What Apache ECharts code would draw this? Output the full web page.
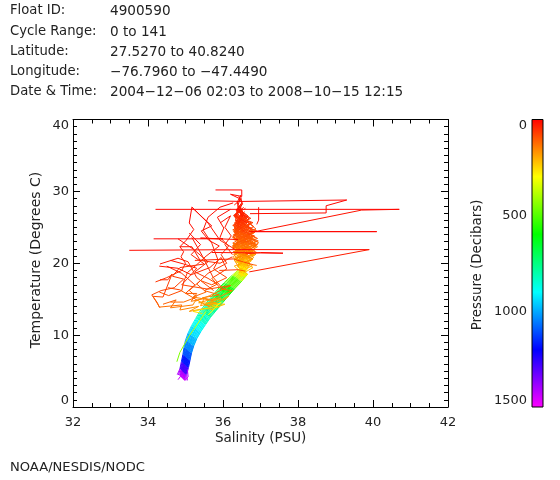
<!DOCTYPE html>
<html><head><meta charset="utf-8">
<style>html,body{margin:0;padding:0;background:#fff}#c{width:560px;height:480px}</style>
<script src="https://cdn.jsdelivr.net/npm/echarts@6/dist/echarts.min.js"></script>
</head><body><div id="c"></div>
<script>
const headerLabels = ['Float ID:','Cycle Range:','Latitude:','Longitude:','Date & Time:'];
const headerValues = ['4900590','0 to 141','27.5270 to 40.8240','\u221276.7960 to \u221247.4490','2004\u221212\u221206 02:03 to 2008\u221210\u221215 12:15'];
const footer = 'NOAA/NESDIS/NODC';
const xTitle = 'Salinity (PSU)', yTitle = 'Temperature (Degrees C)', barTitle = 'Pressure (Decibars)';

const pressureStops = [0,300,600,900,1200,1500];
const pressureColors = ['#ff0000','#ffff00','#00ff00','#00ffff','#0000ff','#ff00ff'];

// Deep water: every profile shares these temperature / pressure levels, each cycle with its own temperature offset
const deepTemp = [18.6,17.6,16.6,15.6,14.6,13.6,12.6,11.6,10.6,9.6,8.6,7.6,6.6,5.6,4.6,3.8];
const deepPressure = [300,450,560,630,690,750,810,860,910,960,1010,1070,1130,1220,1340,1480];
const deepOffset = [0.7,0.65,0.6,0.55,0.5,0.45,0.4,0.35,0.3,0.25,0.2,0.15,0.1,0.05,0,-0.05,-0.1,-0.1];
const deepSalinity = [
 [36.46,36.24,36.03,35.85,35.69,35.53,35.38,35.27,35.16,35.07,35.0,34.96,34.93,34.89,34.85,34.78],
 [36.48,36.27,36.06,35.88,35.72,35.56,35.41,35.29,35.18,35.09,35.02,34.98,34.94,34.91,34.86,34.81],
 [36.5,36.29,36.09,35.91,35.74,35.58,35.43,35.31,35.2,35.1,35.03,34.99,34.96,34.92,34.88,34.84],
 [36.51,36.31,36.1,35.93,35.77,35.6,35.45,35.33,35.21,35.12,35.05,35.0,34.97,34.93,34.89,34.86],
 [36.53,36.33,36.12,35.95,35.78,35.62,35.47,35.34,35.23,35.13,35.06,35.02,34.98,34.95,34.9,34.87],
 [36.54,36.34,36.14,35.96,35.8,35.64,35.48,35.36,35.24,35.14,35.07,35.03,34.99,34.95,34.91,34.88],
 [36.55,36.35,36.15,35.98,35.81,35.65,35.5,35.37,35.25,35.15,35.08,35.04,35.0,34.96,34.92,34.89],
 [36.56,36.37,36.16,35.99,35.83,35.67,35.51,35.39,35.27,35.17,35.1,35.05,35.01,34.97,34.93,34.9],
 [36.57,36.38,36.18,36.0,35.84,35.68,35.52,35.4,35.28,35.18,35.11,35.06,35.02,34.98,34.93,34.9],
 [36.58,36.39,36.19,36.01,35.85,35.7,35.54,35.41,35.29,35.19,35.12,35.07,35.03,34.99,34.94,34.91],
 [36.59,36.4,36.2,36.03,35.87,35.71,35.55,35.43,35.31,35.2,35.13,35.08,35.04,35.0,34.95,34.92],
 [36.6,36.41,36.22,36.04,35.88,35.73,35.57,35.44,35.32,35.22,35.14,35.09,35.05,35.01,34.96,34.93],
 [36.61,36.43,36.23,36.06,35.9,35.74,35.58,35.46,35.34,35.23,35.15,35.1,35.06,35.02,34.97,34.94],
 [36.62,36.44,36.25,36.07,35.91,35.76,35.6,35.47,35.35,35.24,35.17,35.11,35.07,35.03,34.98,34.95],
 [36.63,36.46,36.27,36.09,35.93,35.78,35.62,35.49,35.37,35.26,35.18,35.13,35.08,35.04,34.99,34.96],
 [36.64,36.47,36.28,36.11,35.95,35.79,35.63,35.5,35.38,35.27,35.19,35.14,35.09,35.05,35.0,34.98],
 [36.65,36.49,36.3,36.13,35.97,35.81,35.65,35.52,35.4,35.29,35.21,35.15,35.11,35.06,35.01,35.01],
 [36.66,36.5,36.32,36.15,35.99,35.83,35.67,35.54,35.41,35.3,35.22,35.16,35.12,35.08,35.03,35.05]
];

// Upper cluster: shared levels with a per-cycle temperature offset, null where a cycle has no reading
const upperTemp = [29,28,27,26,25,24,23,22,21,20,19,18.6];
const upperPressure = [8,20,35,55,75,95,115,140,170,205,255,290];
const upperOffset = [0,0.3,-0.4,0.5,-0.2,0.7,-0.5,0.1,0.4,-0.3,0.6,-0.1,0.2,-0.6,0.35,-0.25,0.55,-0.45,0.15,0.75,-0.15,0.45,-0.35,0.25,0.65,-0.55,0.05,0.5,-0.2,0.3,-0.4,0.6];
const upperSalinity = [
 [36.45,36.4,36.55,36.32,36.7,36.28,36.8,36.35,36.7,36.4,36.6,36.5],
 [36.42,36.52,36.38,36.62,36.3,36.85,36.28,36.88,36.3,36.75,36.45,36.55],
 [null,36.45,36.58,36.36,36.78,36.34,36.92,36.27,36.8,36.38,36.62,36.48],
 [36.48,36.38,36.42,36.68,36.4,36.9,36.4,36.7,36.35,36.72,36.44,36.58],
 [null,36.55,36.36,36.5,36.3,36.6,36.26,36.6,36.82,36.5,36.55,36.46],
 [null,null,36.5,36.3,36.64,36.35,36.7,36.3,36.6,36.36,36.48,36.52],
 [null,36.42,36.6,36.7,36.34,36.75,36.5,36.9,36.4,36.68,36.42,36.6],
 [null,null,36.44,36.58,36.82,36.44,36.94,36.48,36.84,36.46,36.64,36.5],
 [36.47,36.5,36.35,36.45,36.55,36.28,36.55,36.25,36.55,36.76,36.5,36.47],
 [null,36.46,36.56,36.34,36.48,36.72,36.32,36.8,36.3,36.6,36.43,36.56],
 [null,null,36.4,36.66,36.3,36.5,36.86,36.42,36.75,36.35,36.58,36.49],
 [null,36.39,36.48,36.38,36.74,36.3,36.62,36.33,36.5,36.72,36.46,36.54],
 [null,null,36.57,36.48,36.36,36.82,36.38,36.74,36.28,36.48,36.6,36.51],
 [null,null,null,36.72,36.44,36.65,36.26,36.66,36.45,36.8,36.47,36.59],
 [null,36.5,36.37,36.6,36.28,36.4,36.76,36.5,36.85,36.42,36.52,36.47],
 [null,null,36.52,36.42,36.6,36.26,36.46,36.84,36.36,36.66,36.44,36.53],
 [null,null,null,36.3,36.52,36.78,36.56,36.28,36.7,36.55,36.63,36.5],
 [null,36.44,36.36,36.54,36.84,36.56,36.9,36.6,36.42,36.7,36.5,36.57],
 [null,null,36.46,36.7,36.38,36.32,36.68,36.26,36.62,36.38,36.56,36.48],
 [null,null,null,36.4,36.66,36.88,36.34,36.56,36.78,36.44,36.6,36.55],
 [null,null,36.54,36.34,36.46,36.62,36.95,36.7,36.52,36.62,36.46,36.52],
 [null,null,null,null,36.58,36.3,36.52,36.38,36.32,36.52,36.4,36.5],
 [null,36.48,36.33,36.6,36.32,36.8,36.3,36.75,36.48,36.78,36.42,36.5],
 [null,null,36.36,36.74,36.26,36.7,36.42,36.3,36.88,36.33,36.66,36.56],
 [null,null,36.6,36.28,36.8,36.26,36.78,36.28,36.66,36.6,36.5,36.6],
 [null,36.43,36.52,36.4,36.56,36.92,36.28,36.62,36.3,36.42,36.66,36.46],
 [null,null,null,36.56,36.3,36.42,36.88,36.26,36.58,36.7,36.43,36.55],
 [null,null,36.42,36.3,36.72,36.38,36.3,36.82,36.44,36.32,36.58,36.52],
 [null,null,null,36.62,36.34,36.84,36.36,36.46,36.26,36.58,36.48,36.5],
 [null,36.52,36.42,36.32,36.62,36.3,36.64,36.92,36.6,36.5,36.62,36.54],
 [null,null,36.34,36.64,36.42,36.26,36.84,36.34,36.8,36.3,36.52,36.49],
 [null,null,null,36.36,36.76,36.48,36.26,36.5,36.3,36.66,36.44,36.58]
];

// Surface spikes and the scattered shallow tracks: [salinity, temperature, pressure]
const shallowTracks = [
 [[34.2,27.5,4],[36.5,27.5,5],[40.7,27.5,6],[39.7,27.4,10],[36.85,24.4,30]],
 [[35.6,28.7,2],[36.5,28.6,4],[39.3,28.8,4],[38.75,28,8],[38.75,27,14],[36.72,26.9,16]],
 [[36.85,24.4,6],[40.1,24.4,4],[36.7,24.4,8]],
 [[33.5,21.8,3],[36.5,21.9,20],[39.9,21.9,6],[36.7,18.8,60]],
 [[34.15,23.4,3],[36,23.4,6],[35.4,23.5,8],[36.4,23.3,30]],
 [[35.7,21.5,10],[37.6,21.4,12],[37,21.5,14],[36.6,21.3,60]],
 [[35.25,20.4,30],[36.27,20.6,50],[36.8,19.8,120],[36.9,19.7,130]],
 [[35.8,30.2,2],[36.5,30.2,3],[36.5,29.3,8],[36.2,29.6,10],[36.48,28.9,16],[36.3,28.1,24]],
 [[36.95,27.8,6],[36.95,26,14],[36.9,25.4,30]],
 [[35.9,19,45],[36.4,19.1,80],[36.6,18.9,130]],
 [[35.17,27.8,5],[35.1,25.6,10],[35.22,24.7,15],[35.02,23.2,20],[34.85,22.3,25],[34.95,21.6,30],[34.88,20.9,34],[35,20,40],[34.9,19,50],[34.5,18,60],[34.2,17.4,62]],
 [[35.17,27.8,5],[35.45,26.4,12],[35.7,25.2,16],[35.42,24.5,20],[35.62,23.2,26],[35.9,22.4,32],[35.55,21,40],[35.3,19.8,48],[35.05,18.7,56],[34.95,17.4,66],[34.9,16.2,80],[34.55,15.5,95],[34.3,16,100]],
 [[36.27,28.4,6],[35.92,27.8,10],[35.6,26.4,18],[35.47,24.6,25],[35.7,22.8,34],[35.87,20.4,50],[35.75,19.2,60],[36.1,18,80],[35.7,17,100],[35.4,17.6,92],[35.1,16.2,110],[35.3,15.3,130],[34.95,14.6,125],[34.6,14.6,120]],
 [[36.2,27.5,8],[35.85,26.4,14],[36.02,24.9,20],[35.92,23.6,26],[36.15,22.4,38],[35.95,21.2,50],[36.1,20,62],[35.6,18.6,72],[35.3,17.1,84],[35.55,16,110],[35.2,15.3,128],[35.75,14.8,170],[35.5,14.2,180],[35.9,13.9,210]],
 [[35.1,24.2,12],[35.4,22.6,24],[35.15,21.2,34],[35.5,19.9,48],[34.85,19.4,50],[34.65,18.2,62],[34.95,17.8,70],[34.7,16.6,76],[34.35,16.2,80],[34.1,15.6,90],[34.25,14.5,110],[34.3,13.9,120],[34.9,14.2,140],[34.85,13.5,140],[35.35,14,170],[35.1,13.3,180],[35.5,13.7,190],[35.75,13.6,220]],
 [[34.8,23.4,10],[35.2,22,24],[35.6,20.2,40],[35.25,18.8,54],[35.6,17.9,70],[35.85,17.1,84],[35.5,16.2,104],[35.9,15.6,130],[35.45,15.2,140],[35.7,14.9,175],[35.95,15.1,190],[35.55,14.4,200],[36.05,14.3,230],[35.65,13.5,240]],
 [[34.5,19.6,30],[34.9,18.6,44],[35.25,17,70],[35,15.8,95],[35.3,15.8,118],[35.15,14.7,130],[35.5,15.1,150],[35.4,14.1,175],[35.8,14.6,190],[35.6,14,210],[36.15,15.4,180],[36,14.8,215]],
 [[34.6,20.4,18],[34.95,19.9,26],[35.3,19.3,40],[34.9,17,64],[35.6,16.4,100],[36.2,16.9,90],[35.85,16,130],[35.65,15.5,160],[35.25,14.7,170],[35.2,14.2,160],[34.6,13.8,130],[34.75,14.9,118],[34.4,14.3,110]],
 [[34.3,19.6,22],[34.8,19.3,30],[35.15,18.4,46],[35.65,19.4,44],[35.95,20.8,44],[36.1,19.2,64],[35.7,17.9,86],[35.95,16.4,120],[36.25,16.2,140],[35.85,15.2,170],[35.35,14.5,185],[35.9,14.4,230],[35.7,14.1,250]],
 [[35.17,27.8,8],[35.6,25.6,14],[35.92,23.2,30],[36.3,22,50]],
 [[35.17,23.6,12],[35.45,21,34],[35.73,18.1,70],[36,16.4,110]],
 [[34.85,22.3,20],[35.17,22.3,26],[35.39,20.4,44],[35.92,20,56],[36.25,20.9,60]],
 [[34.32,19.9,24],[34.8,20.7,30],[35.07,20.2,38],[35.3,18,62],[35.75,16.2,110]],
 [[34.32,17.7,44],[34.53,17.7,48],[34.64,18.5,52],[34.4,15.3,90],[34.13,15.4,94],[34.32,13.8,120]],
 [[34.53,16.6,70],[34.85,16.3,84],[35.3,14.9,130],[35.65,13.9,210]],
 [[35.92,25.6,14],[36.2,26.6,18],[36.05,25,24],[36.22,23.8,30],[36.05,22.6,40],[36.25,21.2,56]],
 [[35.45,13,280],[35.2,13.3,250],[35.8,14,270],[35.95,14.6,300],[35.6,12.8,330]],
 [[35.55,13.3,320],[35.3,11.4,360],[35.1,9.9,390],[34.98,8.8,420],[34.85,7.6,440],[34.77,6.3,470]],
 [[35.05,5.2,1350],[35.07,4.2,1450],[34.98,3.7,1490],[34.9,4.5,1420],[34.8,3.8,1470]]
];

const rows = [];
function addTrack(points){
  for(let i=1;i<points.length;i++){
    const a=points[i-1], b=points[i];
    rows.push([a[0],a[1],b[0],b[1],(a[2]+b[2])/2]);
  }
}
deepSalinity.forEach((s,r)=>addTrack(s.map((v,i)=>[v,deepTemp[i]+deepOffset[r],deepPressure[i]])));
upperSalinity.forEach((s,r)=>addTrack(s.map((v,i)=>v==null?null:[v,Math.max(18.2,upperTemp[i]+upperOffset[r]),upperPressure[i]]).filter(Boolean)));
shallowTracks.forEach(addTrack);

const colorOf = p => echarts.color.lerp(Math.min(1,p/1500),pressureColors);

const font = size => ({fontFamily:'DejaVu Sans',fontSize:size,fill:'#222'});
const graphics = [];
headerLabels.forEach((t,i)=>{
  const y=[4,25,45,65,85][i];
  graphics.push({type:'text',left:10,top:y,style:{...font(13.2),text:t}});
  graphics.push({type:'text',left:110,top:y,style:{...font(13.6),text:headerValues[i]}});
});
graphics.push({type:'text',left:10,top:461,style:{...font(13.1),text:footer}});
graphics.push({type:'text',left:215,top:431,style:{...font(13.5),text:xTitle}});
graphics.push({type:'text',x:36,y:260,rotation:Math.PI/2,style:{...font(14),text:yTitle,align:'center',verticalAlign:'middle'}});
graphics.push({type:'text',x:478,y:265,rotation:Math.PI/2,style:{...font(13.4),text:barTitle,align:'center',verticalAlign:'middle'}});

const line={show:true,onZero:false,lineStyle:{color:'#000',width:1}};
const tickStyle={color:'#000',width:1};
const labelFont={color:'#222',fontFamily:'DejaVu Sans',fontSize:13};
function xAxis(pos,labels){return {type:'value',gridIndex:0,position:pos,min:32,max:42,interval:2,axisLine:line,
  axisTick:{show:true,inside:true,length:7,lineStyle:tickStyle},
  minorTick:{show:true,splitNumber:4,length:4,lineStyle:tickStyle},splitLine:{show:false},minorSplitLine:{show:false},
  axisLabel:{show:labels,margin:9,showMinLabel:true,showMaxLabel:true,...labelFont}};}
function yAxis(pos,labels){return {type:'value',gridIndex:0,position:pos,min:0,max:40,interval:10,axisLine:line,
  axisTick:{show:true,inside:true,length:7,lineStyle:tickStyle},
  minorTick:{show:true,splitNumber:10,length:4,lineStyle:tickStyle},splitLine:{show:false},minorSplitLine:{show:false},
  axisLabel:{show:labels,margin:4,showMinLabel:true,showMaxLabel:true,verticalAlignMinLabel:'bottom',verticalAlignMaxLabel:'top',...labelFont}};}

const chart=echarts.init(document.getElementById('c'),null,{renderer:'canvas'});
chart.setOption({
  animation:false,backgroundColor:'#fff',
  graphic:graphics,
  grid:[{left:73,top:119.5,width:375,height:287.5,outerBoundsMode:'none'},
        {left:532,top:119.5,width:11,height:287.5,outerBoundsMode:'none'}],
  xAxis:[xAxis('bottom',true),xAxis('top',false),
    {type:'value',gridIndex:1,min:0,max:1,show:false}],
  yAxis:[yAxis('left',true),yAxis('right',false),
    {type:'value',gridIndex:1,inverse:true,min:0,max:1500,interval:500,position:'left',
     axisLine:{show:false},axisTick:{show:false},splitLine:{show:false},
     axisLabel:{margin:5,showMinLabel:true,showMaxLabel:true,verticalAlignMinLabel:'top',verticalAlignMaxLabel:'bottom',formatter:v=>String(v),...labelFont}}],
  series:[
   {type:'custom',xAxisIndex:0,yAxisIndex:0,clip:true,silent:true,data:rows,encode:{x:[0,2],y:[1,3]},
    renderItem(params,api){
      const a=api.coord([api.value(0),api.value(1)]), b=api.coord([api.value(2),api.value(3)]);
      return {type:'line',shape:{x1:a[0],y1:a[1],x2:b[0],y2:b[1]},style:{stroke:colorOf(api.value(4)),lineWidth:1,fill:null}};
    }},
   {type:'custom',xAxisIndex:2,yAxisIndex:2,silent:true,data:[[0,pressureStops[0],1,pressureStops[pressureStops.length-1]]],encode:{x:[0,2],y:[1,3]},
    renderItem(params,api){
      const a=api.coord([api.value(0),api.value(1)]), b=api.coord([api.value(2),api.value(3)]);
      return {type:'rect',shape:{x:a[0],y:a[1],width:b[0]-a[0],height:b[1]-a[1]},
        style:{fill:new echarts.graphic.LinearGradient(0,0,0,1,pressureStops.map((p,i)=>({offset:p/1500,color:pressureColors[i]}))),stroke:'#000',lineWidth:1}};
    }}
  ]
});
</script></body></html>
